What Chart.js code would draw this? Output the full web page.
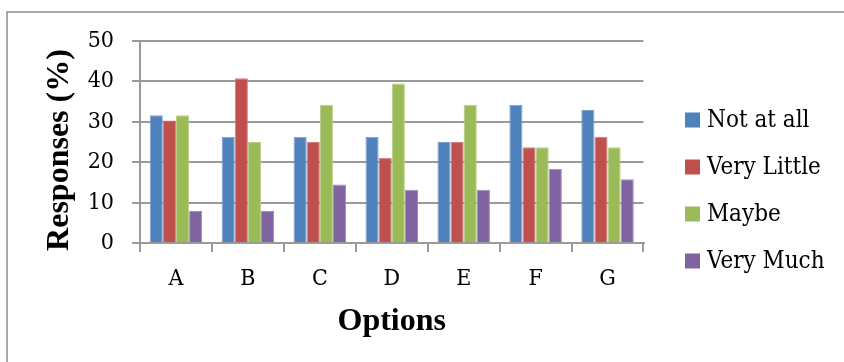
<!DOCTYPE html>
<html>
<head>
<meta charset="utf-8">
<script src="https://cdn.jsdelivr.net/npm/chart.js@4"></script>
<style>
  html, body { margin: 0; padding: 0; background: #ffffff; }
  #wrap { width: 844px; height: 362px; }
</style>
</head>
<body>
<div id="wrap"><canvas id="chart" width="844" height="362"></canvas></div>
<script>
// Response shares (%) per option
const categories = ['A', 'B', 'C', 'D', 'E', 'F', 'G'];
const seriesNames = ['Not at all', 'Very Little', 'Maybe', 'Very Much'];
const notAtAll   = [31.6, 26.3, 26.3, 26.3, 25.0, 34.2, 32.9];
const veryLittle = [30.3, 40.8, 25.0, 21.1, 25.0, 23.7, 26.3];
const maybe      = [31.6, 25.0, 34.2, 39.5, 34.2, 23.7, 23.7];
const veryMuch   = [7.9, 7.9, 14.5, 13.2, 13.2, 18.4, 15.8];
const yTicks     = [0, 10, 20, 30, 40, 50];

const fills   = ['#4F81BD', '#C0504D', '#9BBB59', '#8064A2'];
const edges   = ['#7DA0CF', '#D47F7C', '#B7CF88', '#A18CBD'];
const gridCol = '#9A9A9A';
const labelFont = '"DejaVu Serif Condensed", "DejaVu Serif", serif';

// Outer frame of the chart box
const framePlugin = {
  id: 'frame',
  beforeDraw(chart) {
    const ctx = chart.ctx;
    ctx.save();
    ctx.strokeStyle = '#8C8C8C';
    ctx.lineWidth = 1.5;
    ctx.beginPath();
    ctx.moveTo(7, 362);
    ctx.lineTo(7, 12);
    ctx.lineTo(844, 12);
    ctx.stroke();
    ctx.restore();
  }
};

// Legend stacked on the right, squares + serif labels
const sideLegend = {
  id: 'sideLegend',
  afterDraw(chart) {
    const ctx = chart.ctx;
    const x0 = 685, y0 = 120, gap = 47, box = 15;
    ctx.save();
    ctx.font = '24px ' + labelFont;
    ctx.textBaseline = 'middle';
    ctx.textAlign = 'left';
    chart.data.datasets.forEach((ds, i) => {
      const cy = y0 + i * gap;
      ctx.fillStyle = ds.backgroundColor;
      ctx.fillRect(x0, cy - box / 2, box, box);
      ctx.fillStyle = '#000000';
      ctx.fillText(ds.label, x0 + 22, cy + 1);
    });
    ctx.restore();
  }
};

const seriesData = [notAtAll, veryLittle, maybe, veryMuch];

new Chart(document.getElementById('chart'), {
  type: 'bar',
  data: {
    labels: categories,
    datasets: seriesNames.map((name, i) => ({
      label: name,
      data: seriesData[i],
      backgroundColor: fills[i],
      borderColor: edges[i],
      borderWidth: 1,
      categoryPercentage: 0.73,
      barPercentage: 1.0
    }))
  },
  options: {
    responsive: false,
    animation: false,
    devicePixelRatio: 1,
    layout: { padding: { left: 0, right: 200.5, top: 41, bottom: 0 } },
    plugins: {
      legend: { display: false },
      tooltip: { enabled: false }
    },
    scales: {
      x: {
        offset: true,
        grid: {
          display: true,
          drawOnChartArea: false,
          drawTicks: true,
          tickLength: 9,
          color: gridCol,
          lineWidth: 2
        },
        border: { display: true, color: gridCol, width: 2 },
        ticks: {
          color: '#000000',
          font: { family: labelFont, size: 23 },
          padding: 13
        },
        title: {
          display: true,
          text: 'Options',
          color: '#000000',
          font: { family: 'Liberation Serif', size: 32, weight: 'bold' },
          padding: { top: 0, bottom: 21 }
        },
        afterFit(scale) { scale.height = 362 - 243; }
      },
      y: {
        min: 0,
        max: 50,
        afterBuildTicks(scale) { scale.ticks = yTicks.map(v => ({ value: v })); },
        grid: {
          color: gridCol,
          lineWidth: 2,
          drawTicks: true,
          tickLength: 8
        },
        border: { display: true, color: gridCol, width: 2 },
        ticks: {
          color: '#000000',
          font: { family: labelFont, size: 23 },
          padding: 18
        },
        title: {
          display: true,
          text: 'Responses (%)  ',
          color: '#000000',
          font: { family: 'Liberation Serif', size: 32, weight: 'bold' },
          padding: { top: 41, bottom: 0 }
        },
        afterFit(scale) { scale.width = 140; }
      }
    }
  },
  plugins: [framePlugin, sideLegend]
});
</script>
</body>
</html>
